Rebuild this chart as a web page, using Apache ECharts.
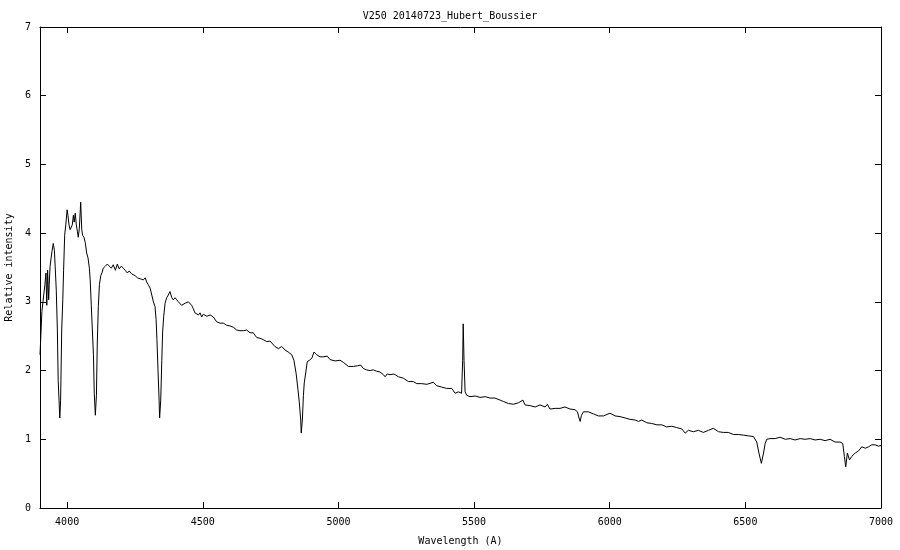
<!DOCTYPE html>
<html>
<head>
<meta charset="utf-8">
<script src="https://cdn.jsdelivr.net/npm/echarts@6/dist/echarts.min.js"></script>
<style>
html,body{margin:0;padding:0;background:#fff;}
#chart{width:900px;height:550px;}
</style>
</head>
<body>
<div id="chart"></div>
<script>
const titleText = 'V250 20140723_Hubert_Boussier';
const xAxisName = 'Wavelength (A)';
const yAxisName = 'Relative intensity';
const xTicks = [4000, 4500, 5000, 5500, 6000, 6500, 7000];
const yTicks = [0, 1, 2, 3, 4, 5, 6, 7];

const wavelength = [
3900,3907,3912,3918,3922,3925,3928,3932,3934,3937,3941,3944,3949,3953,3956,3960,3964,3967,3973,3976,
3980,3984,3987,3991,3995,4000,4003,4007,4011,4015,4019,4023,4026,4030,4034,4038,4041,4045,4050,4054,
4057,4062,4067,4072,4077,4082,4085,4089,4093,4097,4100,4104,4108,4111,4115,4119,4124,4129,4133,4141,
4148,4155,4163,4170,4178,4185,4192,4200,4207,4214,4222,4229,4237,4244,4251,4259,4266,4273,4281,4288,
4293,4299,4306,4312,4318,4324,4328,4331,4335,4339,4341,4345,4349,4352,4356,4361,4367,4373,4379,4386,
4391,4398,4404,4410,4416,4422,4428,4435,4441,4447,4453,4459,4465,4471,4478,4484,4490,4496,4502,4508,
4515,4527,4539,4551,4564,4576,4588,4600,4613,4625,4637,4650,4662,4674,4686,4699,4711,4723,4736,4748,
4766,4779,4791,4803,4815,4828,4836,4844,4851,4856,4861,4863,4867,4871,4874,4880,4885,4893,4902,4910,
4920,4932,4944,4959,4969,4988,5006,5018,5037,5055,5070,5082,5092,5104,5117,5129,5141,5153,5166,5172,
5180,5190,5205,5221,5239,5258,5276,5289,5307,5326,5350,5362,5381,5399,5418,5430,5442,5454,5458,5460,
5463,5467,5473,5485,5504,5522,5541,5559,5577,5596,5608,5627,5645,5663,5680,5688,5706,5725,5743,5762,
5770,5780,5799,5817,5835,5854,5872,5881,5887,5891,5896,5903,5921,5940,5958,5977,5983,6001,6020,6038,
6057,6075,6094,6106,6118,6137,6155,6174,6192,6210,6229,6247,6266,6278,6290,6308,6327,6345,6364,6382,
6401,6419,6437,6456,6474,6493,6511,6530,6542,6550,6559,6567,6573,6579,6591,6610,6628,6647,6665,6683,
6702,6720,6739,6757,6776,6794,6812,6831,6849,6859,6865,6870,6876,6884,6892,6905,6917,6929,6942,6954,
6966,6978,6991,7000
];
const intensity = [
2.23,2.86,2.85,3.25,3.42,2.95,3.46,3.03,3.25,3.51,3.64,3.73,3.85,3.75,3.51,3.17,2.59,1.86,1.31,1.57,
2.59,3.03,3.46,3.97,4.12,4.34,4.26,4.12,4.05,4.07,4.12,4.26,4.16,4.29,4.12,4.02,3.94,4.07,4.45,4.05,
3.97,3.94,3.86,3.71,3.64,3.49,3.32,2.95,2.59,2.23,1.67,1.35,1.64,2.37,2.93,3.25,3.38,3.43,3.49,3.52,
3.55,3.54,3.49,3.54,3.46,3.55,3.48,3.52,3.49,3.46,3.42,3.45,3.41,3.39,3.38,3.35,3.36,3.33,3.32,3.35,
3.29,3.25,3.20,3.10,3.00,2.93,2.74,2.45,2.01,1.57,1.31,1.57,2.15,2.56,2.79,2.98,3.06,3.10,3.15,3.06,
3.03,3.06,3.03,3.00,3.01,2.95,2.93,2.98,2.98,3.00,2.98,2.95,2.90,2.84,2.85,2.81,2.84,2.78,2.82,2.84,
2.79,2.81,2.78,2.71,2.69,2.69,2.66,2.65,2.63,2.59,2.58,2.58,2.59,2.55,2.55,2.48,2.47,2.45,2.42,2.43,
2.35,2.32,2.35,2.30,2.27,2.23,2.15,1.96,1.72,1.53,1.28,1.09,1.28,1.64,1.82,1.98,2.13,2.15,2.18,2.27,
2.23,2.20,2.20,2.21,2.16,2.14,2.15,2.12,2.06,2.06,2.07,2.08,2.03,2.01,2.00,2.01,1.99,1.98,1.94,1.91,
1.95,1.94,1.95,1.91,1.89,1.84,1.84,1.81,1.81,1.80,1.83,1.78,1.76,1.74,1.74,1.67,1.69,1.67,2.15,2.68,
2.15,1.69,1.64,1.62,1.63,1.61,1.62,1.60,1.60,1.57,1.55,1.52,1.51,1.53,1.57,1.50,1.49,1.47,1.50,1.47,
1.51,1.44,1.45,1.45,1.47,1.44,1.43,1.40,1.31,1.26,1.35,1.40,1.40,1.37,1.34,1.34,1.35,1.38,1.34,1.33,
1.31,1.29,1.28,1.26,1.28,1.24,1.23,1.21,1.21,1.18,1.19,1.17,1.15,1.09,1.13,1.11,1.13,1.10,1.13,1.16,
1.11,1.10,1.10,1.07,1.07,1.06,1.05,1.04,0.96,0.80,0.65,0.80,0.94,1.00,1.01,1.01,1.03,1.00,1.01,0.99,
1.01,1.00,1.01,0.99,1.00,0.98,1.00,0.96,0.96,0.94,0.75,0.60,0.80,0.70,0.75,0.80,0.83,0.89,0.87,0.89,
0.92,0.92,0.90,0.91
];

const FONT = 'DejaVu Sans Mono';
const chart = echarts.init(document.getElementById('chart'), null, {renderer: 'canvas'});

const xBase = {
  type: 'value', min: 3900, max: 7000,
  axisLine: {show: true, onZero: false, lineStyle: {color: '#000', width: 1}},
  axisTick: {show: true, inside: true, length: 6, customValues: xTicks, lineStyle: {color: '#000'}},
  splitLine: {show: false}
};
const yBase = {
  type: 'value', min: 0, max: 7, interval: 1,
  axisLine: {show: true, onZero: false, lineStyle: {color: '#000', width: 1}},
  axisTick: {show: true, inside: true, length: 6, lineStyle: {color: '#000'}},
  splitLine: {show: false}
};

chart.setOption({
  animation: false,
  backgroundColor: '#fff',
  title: {
    text: titleText, left: 'center', top: 6,
    textStyle: {fontFamily: FONT, fontSize: 10, fontWeight: 'normal', color: '#000'}
  },
  grid: {left: 40, right: 19, top: 27, bottom: 42, containLabel: false, outerBoundsMode: 'none'},
  xAxis: [
    Object.assign({}, xBase, {
      position: 'bottom',
      name: xAxisName, nameLocation: 'middle', nameGap: 28,
      nameTextStyle: {fontFamily: FONT, fontSize: 10, color: '#000'},
      axisLabel: {show: true, customValues: xTicks, margin: 9, fontFamily: FONT, fontSize: 10, color: '#000',
        formatter: v => String(v)}
    }),
    Object.assign({}, xBase, {
      position: 'top',
      axisLabel: {show: false}
    })
  ],
  yAxis: [
    Object.assign({}, yBase, {
      position: 'left',
      name: yAxisName, nameLocation: 'middle', nameGap: 25, nameRotate: 90,
      nameTextStyle: {fontFamily: FONT, fontSize: 10, color: '#000'},
      axisLabel: {show: true, margin: 9, fontFamily: FONT, fontSize: 10, color: '#000'}
    }),
    Object.assign({}, yBase, {
      position: 'right',
      axisLabel: {show: false}
    })
  ],
  series: [{
    type: 'line',
    xAxisIndex: 0, yAxisIndex: 0,
    data: wavelength.map((w, i) => [w, intensity[i]]),
    showSymbol: false,
    symbol: 'none',
    lineStyle: {color: '#000', width: 1},
    silent: true
  }]
});
</script>
</body>
</html>
